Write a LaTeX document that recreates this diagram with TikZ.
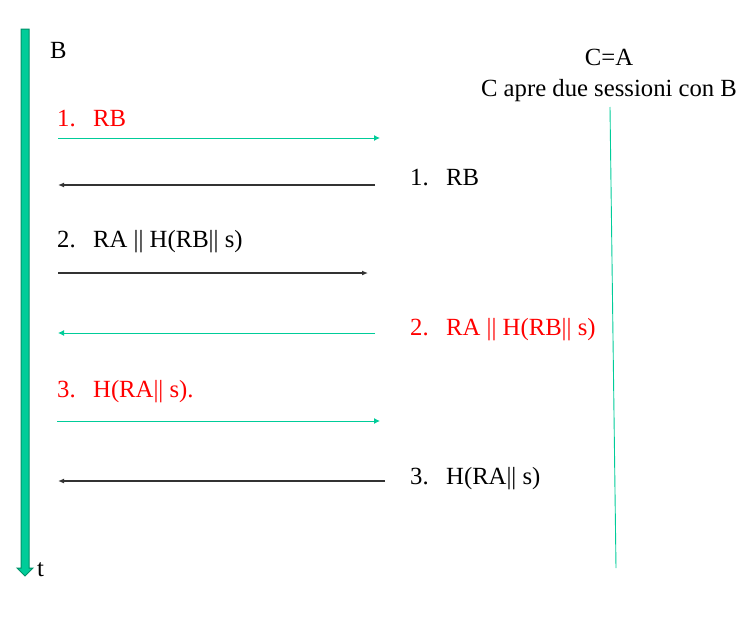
\documentclass[tikz,border=0pt]{standalone}
\usepackage{fontspec}
\setmainfont{Liberation Serif}
\usetikzlibrary{arrows.meta}
\definecolor{lineteal}{RGB}{0,204,153}
\definecolor{bardark}{RGB}{0,145,105}
\definecolor{msgred}{RGB}{255,0,0}
\begin{document}
\begin{tikzpicture}[x=1pt,y=-1pt]
        \tikzset{msg/.style = {anchor=base west,inner sep=0pt,font=\fontsize{24.7}{28}\selectfont}}
        \tikzset{tomsg/.style = {-{Latex[length=6pt,width=6pt]},lineteal,line width=1pt}}
        \tikzset{backmsg/.style = {-{Latex[length=6pt,width=5pt]},black!80,line width=1.2pt}}
        \newcommand{\itm}[2]{\makebox[36pt][l]{#1}#2}
        \useasboundingbox (0,0) rectangle (750,621);
        % time bar of B
        \filldraw[fill=lineteal,draw=bardark,line width=1pt]
          (21,29) -- (29,29) -- (29,568) -- (33,568) -- (25,576) -- (17,568) -- (21,568) -- cycle;
        % labels
        \node[msg] (b) at (50,58) {B};
        \node[msg] (t) at (37,576) {t};
        \node[msg,anchor=base] (ca) at (609,65) {C=A};
        \node[msg,anchor=base] (cb) at (609,96) {C apre due sessioni con B};
        % messages, left
        \node[msg,text=msgred] (l1) at (57,126) {\itm{1.}{RB}};
        \node[msg] (l2) at (57,247) {\itm{2.}{RA || H(RB|| s)}};
        \node[msg,text=msgred] (l3) at (57,397) {\itm{3.}{H(RA|| s).}};
        % messages, right
        \node[msg] (r1) at (410,185) {\itm{1.}{RB}};
        \node[msg,text=msgred] (r2) at (410,335) {\itm{2.}{RA || H(RB|| s)}};
        \node[msg] (r3) at (410,484) {\itm{3.}{H(RA|| s)}};
        % life line of C
        \coordinate (ctop) at (610,107);
        \coordinate (cbot) at (616,568);
        \draw[lineteal,line width=0.9pt] (ctop) -- (cbot);
        % arrow ends
        \coordinate (a1s) at (58,138);  \coordinate (a1e) at (380,138);
        \coordinate (a2s) at (375,185); \coordinate (a2e) at (58,185);
        \coordinate (a3s) at (58,273);  \coordinate (a3e) at (368,273);
        \coordinate (a4s) at (375,333); \coordinate (a4e) at (58,333);
        \coordinate (a5s) at (57,421);  \coordinate (a5e) at (380,421);
        \coordinate (a6s) at (385,481); \coordinate (a6e) at (58,481);
        %edges
        \draw[tomsg] (a1s) -- (a1e);
        \draw[backmsg] (a2s) -- (a2e);
        \draw[backmsg] (a3s) -- (a3e);
        \draw[tomsg] (a4s) -- (a4e);
        \draw[tomsg] (a5s) -- (a5e);
        \draw[backmsg] (a6s) -- (a6e);
\end{tikzpicture}
\end{document}
